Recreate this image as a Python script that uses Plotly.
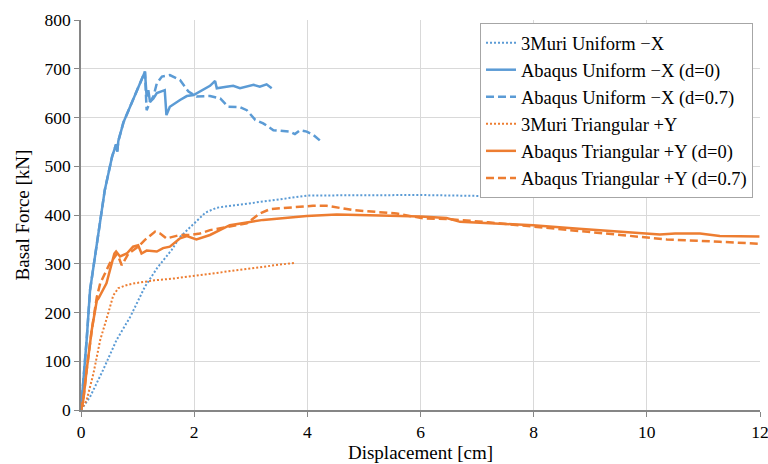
import plotly.graph_objects as go

# Pushover curves: displacement [cm] vs. basal force [kN]

# 3Muri, uniform load pattern, -X
muri_x_disp = [0, 0.16, 0.39, 0.63, 0.87, 1.04, 1.13, 1.35, 1.6, 1.75, 2.0, 2.2, 2.4, 2.7, 3.0, 3.5, 4.0, 5.0, 6.0, 7.1]
muri_x_force = [0, 27, 82, 144, 191, 232, 253, 292, 328, 355, 383, 405, 415, 420, 425, 432, 440, 441, 441, 439]

# Abaqus, uniform load pattern, -X, d=0
abq_x0_disp = [0, 0.04, 0.10, 0.16, 0.29, 0.35, 0.42, 0.55, 0.62, 0.64, 0.66, 0.75, 0.87, 1.0, 1.13,
               1.16, 1.19, 1.22, 1.28, 1.34, 1.43, 1.48, 1.51, 1.57, 1.75, 1.87, 1.99, 2.10, 2.28, 2.37,
               2.40, 2.57, 2.69, 2.81, 2.93, 3.05, 3.16, 3.28, 3.37]
abq_x0_force = [0, 55, 144, 246, 349, 390, 451, 520, 545, 530, 552, 590, 622, 660, 694,
                643, 656, 632, 639, 650, 653, 656, 605, 622, 636, 644, 646, 653, 665, 675,
                660, 663, 665, 660, 663, 667, 663, 668, 660]

# Abaqus, uniform load pattern, -X, d=0.7
abq_x7_disp = [0, 0.04, 0.10, 0.16, 0.29, 0.35, 0.42, 0.55, 0.62, 0.64, 0.66, 0.75, 0.87, 1.0, 1.13,
               1.16, 1.22, 1.28, 1.34, 1.43, 1.57, 1.75, 1.90, 2.04, 2.28, 2.46, 2.60, 2.81, 2.93,
               3.08, 3.22, 3.40, 3.69, 3.78, 3.87, 3.99, 4.11, 4.25]
abq_x7_force = [0, 55, 144, 246, 349, 390, 451, 520, 545, 530, 552, 590, 622, 660, 694,
                615, 632, 643, 670, 684, 687, 677, 653, 643, 644, 639, 622, 621, 615,
                595, 588, 574, 571, 566, 574, 571, 564, 550]

# 3Muri, triangular load pattern, +Y
muri_y_disp = [0, 0.10, 0.22, 0.34, 0.48, 0.57, 0.66, 0.80, 0.95, 1.3, 1.66, 2.1, 2.55, 3.0, 3.43, 3.78]
muri_y_force = [0, 20, 75, 144, 198, 235, 250, 256, 260, 266, 270, 277, 284, 291, 297, 302]

# Abaqus, triangular load pattern, +Y, d=0
abq_y0_disp = [0, 0.04, 0.10, 0.19, 0.28, 0.31, 0.45, 0.54, 0.59, 0.62, 0.69, 0.81, 0.92, 1.01, 1.07,
               1.16, 1.34, 1.45, 1.57, 1.75, 1.87, 2.04, 2.28, 2.63, 3.22, 3.99, 4.52, 5.28, 6.0,
               6.46, 6.70, 7.05, 7.99, 8.8, 9.76, 10.23, 10.5, 10.94, 11.29, 11.99]
abq_y0_force = [0, 20, 82, 164, 225, 229, 260, 301, 321, 325, 315, 321, 335, 338, 321,
                327, 325, 332, 335, 352, 357, 350, 359, 379, 390, 398, 401, 399, 397,
                394, 386, 384, 379, 372, 364, 360, 362, 362, 357, 356]

# Abaqus, triangular load pattern, +Y, d=0.7
abq_y7_disp = [0, 0.04, 0.10, 0.19, 0.28, 0.34, 0.51, 0.64, 0.72, 0.84, 1.01, 1.13, 1.31, 1.40, 1.51,
               1.63, 1.75, 1.93, 2.10, 2.28, 2.93, 3.16, 3.34, 4.1, 4.34, 4.81, 5.58, 6.05, 6.46,
               7.2, 7.99, 9.17, 10.35, 11.29, 11.99]
abq_y7_force = [0, 20, 82, 164, 232, 260, 301, 321, 297, 321, 335, 349, 366, 362, 352,
                355, 359, 359, 362, 369, 383, 403, 412, 419, 419, 410, 403, 393, 392,
                385, 376, 362, 350, 345, 341]

BLUE = "#5B9BD5"
ORANGE = "#ED7D31"
DASH = "8px,4px"
DOT = "2px,2px"

series = [
    ("3Muri Uniform \u2212X", muri_x_disp, muri_x_force, BLUE, DOT, 2),
    ("Abaqus Uniform \u2212X (d=0)", abq_x0_disp, abq_x0_force, BLUE, "solid", 2.5),
    ("Abaqus Uniform \u2212X (d=0.7)", abq_x7_disp, abq_x7_force, BLUE, DASH, 2.5),
    ("3Muri Triangular +Y", muri_y_disp, muri_y_force, ORANGE, DOT, 2),
    ("Abaqus Triangular +Y (d=0)", abq_y0_disp, abq_y0_force, ORANGE, "solid", 2.5),
    ("Abaqus Triangular +Y (d=0.7)", abq_y7_disp, abq_y7_force, ORANGE, DASH, 2.5),
]

fig = go.Figure()
for i, (name, xs, ys, color, dash, width) in enumerate(series):
    fig.add_trace(go.Scatter(
        x=xs, y=ys, mode="lines", name=name, legendgroup=f"g{i}",
        line=dict(color=color, dash=dash, width=width),
    ))

FONT = "Liberation Serif"
GRID = "#D9D9D9"
AXIS = "#868686"
TICK = dict(family=FONT, size=17.5, color="#000000")
TITLE = dict(family=FONT, size=19, color="#000000")

fig.update_layout(
    width=768, height=464,
    margin=dict(l=81, r=8, t=20, b=54, autoexpand=False),
    paper_bgcolor="white", plot_bgcolor="white",
    font=TICK,
    showlegend=True,
    legend=dict(
        x=0.9897, y=0.992, xanchor="right", yanchor="top",
        bgcolor="white", bordercolor="#A6A6A6", borderwidth=1,
        font=dict(family=FONT, size=18.5, color="#000000"),
        traceorder="grouped", tracegroupgap=0,
        itemwidth=30,
    ),
    xaxis=dict(
        range=[0, 12], dtick=2, tick0=0,
        showgrid=True, gridcolor=GRID, gridwidth=1,
        showline=True, linecolor=AXIS, linewidth=1.5,
        ticks="outside", ticklen=5, tickcolor=AXIS,
        zeroline=False, automargin=False, ticklabeloverflow="allow",
        tickfont=TICK,
        title=dict(text="Displacement [cm]", standoff=4, font=TITLE),
    ),
    yaxis=dict(
        range=[0, 800], dtick=100, tick0=0,
        showgrid=True, gridcolor=GRID, gridwidth=1,
        showline=True, linecolor=AXIS, linewidth=1.5,
        ticks="outside", ticklen=5, tickcolor=AXIS,
        zeroline=False, automargin=False, ticklabeloverflow="allow",
        tickfont=TICK,
        title=dict(text="Basal Force [kN]", standoff=10, font=TITLE),
    ),
)

fig.write_html("out.html")
